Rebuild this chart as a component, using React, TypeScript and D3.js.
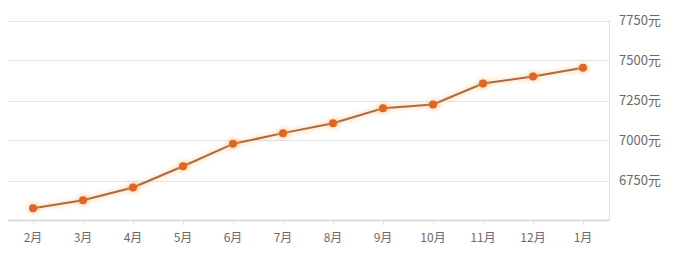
import React from "react";
import * as d3 from "d3";

const months = ["2月", "3月", "4月", "5月", "6月", "7月", "8月", "9月", "10月", "11月", "12月", "1月"];
const prices = [6577, 6627, 6706, 6839, 6979, 7046, 7108, 7202, 7225, 7356, 7400, 7454];
const yTicks = [6750, 7000, 7250, 7500, 7750];
const yUnit = "元";

const W = 681;
const H = 264;
const FONT = "'Noto Sans CJK SC', 'Noto Sans', sans-serif";

export default function App() {
  const x = d3.scaleBand<string>().domain(months).range([8, 608]);
  const y = d3.scaleLinear().domain([6500, 7750]).range([220.5, 20.5]);
  const cx = (m: string) => (x(m) as number) + x.bandwidth() / 2;
  const line = d3
    .line<number>()
    .x((_, i) => cx(months[i]))
    .y((d) => y(d));
  const path = line(prices) as string;

  return (
    <div style={{ position: "fixed", left: 0, top: 0, width: W, height: H, background: "#fff" }}>
      <svg width={W} height={H} style={{ display: "block" }}>
        <defs>
          <filter id="glow" x="-10%" y="-20%" width="120%" height="140%">
            <feGaussianBlur stdDeviation="2" />
          </filter>
        </defs>
        {yTicks.map((t) => (
          <line key={t} x1={8} x2={609} y1={Math.round(y(t)) + 0.5} y2={Math.round(y(t)) + 0.5} stroke="#e3e3e3" strokeWidth={1} />
        ))}
        <line x1={609.5} x2={609.5} y1={20} y2={221} stroke="#e3e3e3" />
        <line x1={8} x2={610} y1={220.5} y2={220.5} stroke="#d4d4d4" strokeWidth={1.5} />
        {months.map((m) => (
          <line key={m} x1={Math.round(cx(m)) + 0.5} x2={Math.round(cx(m)) + 0.5} y1={221} y2={225} stroke="#e0e0e0" />
        ))}
        <path d={path} fill="none" stroke="#ffc080" strokeWidth={5} opacity={0.4} filter="url(#glow)" />
        <path d={path} fill="none" stroke="#ad6a3e" strokeWidth={2} />
        {prices.map((p, i) => (
          <g key={i}>
            <circle cx={cx(months[i])} cy={y(p)} r={6} fill="#ffb060" opacity={0.4} filter="url(#glow)" />
            <circle cx={cx(months[i])} cy={y(p)} r={4} fill="#de6523" />
          </g>
        ))}
        {months.map((m) => (
          <text key={m} x={cx(m)} y={242} textAnchor="middle" fontSize={12} fill="#6a6a6a" fontFamily={FONT}>
            {m}
          </text>
        ))}
        {yTicks.map((t) => (
          <text key={t} x={619} y={y(t) + 4.5} textAnchor="start" fontSize={13} fill="#6a6a6a" fontFamily={FONT}>
            {t}
            {yUnit}
          </text>
        ))}
      </svg>
    </div>
  );
}
